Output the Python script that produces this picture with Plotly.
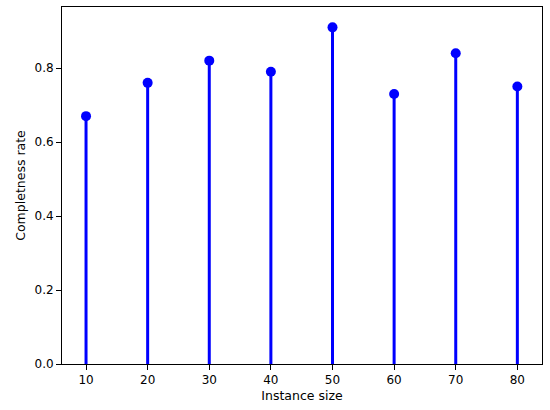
import plotly.graph_objects as go

sizes = [10, 20, 30, 40, 50, 60, 70, 80]
rates = [0.67, 0.76, 0.82, 0.79, 0.91, 0.73, 0.84, 0.75]

# stem segments built from the data: (x, 0) -> (x, y), separated by None
stem_x, stem_y = [], []
for s, r in zip(sizes, rates):
    stem_x += [s, s, None]
    stem_y += [0, r, None]

fig = go.Figure()
fig.add_trace(go.Scatter(x=stem_x, y=stem_y, mode='lines',
                         line=dict(color='#0000ff', width=3), hoverinfo='skip'))
fig.add_trace(go.Scatter(x=sizes, y=rates, mode='markers',
                         marker=dict(color='#0000ff', size=10)))

axis_style = dict(showline=True, linecolor='black', linewidth=1, mirror=True,
                  ticks='outside', ticklen=5, tickcolor='black', showgrid=False,
                  zeroline=False, automargin=False,
                  tickfont=dict(size=12, color='black'))

fig.update_layout(
    width=550, height=410,
    paper_bgcolor='white', plot_bgcolor='white',
    font=dict(family='DejaVu Sans', size=12, color='black'),
    showlegend=False,
    margin=dict(l=62, r=8, t=7, b=46),
    xaxis=dict(range=[6.1, 84.0], tickvals=sizes,
               title=dict(text='Instance size', standoff=4, font=dict(size=12.5)),
               **axis_style),
    yaxis=dict(range=[0, 0.965], tickvals=[0, 0.2, 0.4, 0.6, 0.8],
               ticktext=['0.0', '0.2', '0.4', '0.6', '0.8'],
               title=dict(text='Completness rate', standoff=6, font=dict(size=12.5)),
               **axis_style),
)

fig.write_html("out.html", config={"displayModeBar": False},
               post_script="document.body.style.margin='0';document.body.style.overflow='hidden';")
